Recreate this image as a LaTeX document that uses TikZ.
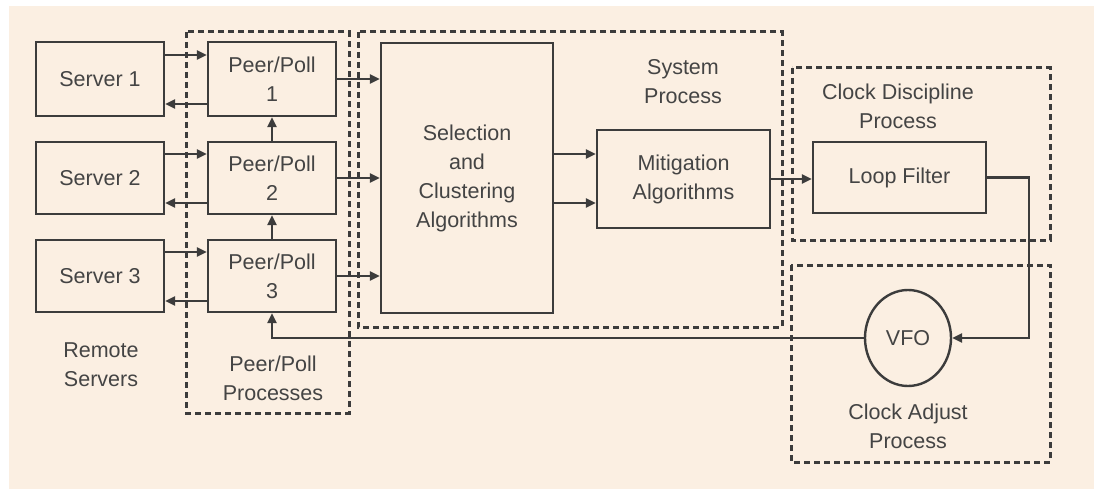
\documentclass[tikz,border=0pt]{standalone}
\usepackage{fontspec}
\setmainfont{Liberation Sans}
\usetikzlibrary{arrows.meta,shapes.geometric}
\definecolor{paper}{RGB}{251,239,226}
\definecolor{ink}{RGB}{60,60,60}
\definecolor{txt}{RGB}{68,68,68}

\tikzset{
  lbl/.style={text=txt, font=\fontsize{21.5}{29}\selectfont, align=center, inner sep=0pt},
  block/.style={lbl, draw=ink, line width=2.4pt, rectangle},
  frame/.style={draw=ink, line width=3pt, dash pattern=on 6pt off 4pt},
  arr/.style={draw=ink, line width=2.4pt, -{Triangle[length=10pt,width=9pt]}}
}

\begin{document}
\begin{tikzpicture}[x=1pt,y=-1pt]
\useasboundingbox (0,0) rectangle (1094,489);
\fill[paper] (9,6) rectangle (1094,489);

% process groups
\draw[frame] (186,32) rectangle (349,413);
\draw[frame] (358,32) rectangle (782,327);
\draw[frame] (792,68) rectangle (1050,240);
\draw[frame] (791,265) rectangle (1050,462);

% remote servers
\node[block, minimum width=128pt, minimum height=74pt] (s1) at (100,79) {Server 1};
\node[block, minimum width=128pt, minimum height=72pt] (s2) at (100,178) {Server 2};
\node[block, minimum width=128pt, minimum height=72pt] (s3) at (100,276) {Server 3};

% peer/poll processes
\node[block, minimum width=128pt, minimum height=74pt] (p1) at (272,79) {Peer/Poll\\1};
\node[block, minimum width=128pt, minimum height=72pt] (p2) at (272,178) {Peer/Poll\\2};
\node[block, minimum width=128pt, minimum height=72pt] (p3) at (272,276) {Peer/Poll\\3};

% system process
\node[block, minimum width=172pt, minimum height=270pt] (sel) at (467,178)
  {Selection\\and\\Clustering\\Algorithms};
\node[block, minimum width=173pt, minimum height=98pt] (mit) at (683.5,179)
  {Mitigation\\Algorithms};

% clock discipline and adjust
\node[block, minimum width=173pt, minimum height=71pt] (lf) at (899.5,177.5) {Loop Filter};
\node[block, ellipse, minimum width=86pt, minimum height=96pt] (vfo) at (908,338) {VFO};

% group captions
\node[lbl] (capRS) at (101,365) {Remote\\Servers};
\node[lbl] (capPP) at (273,378) {Peer/Poll\\Processes};
\node[lbl] (capSP) at (683,82) {System\\Process};
\node[lbl] (capCD) at (898,106) {Clock Discipline\\Process};
\node[lbl] (capCA) at (908,426) {Clock Adjust\\Process};

% server <-> peer exchanges
\foreach \s/\p in {s1/p1, s2/p2, s3/p3}{
  \coordinate (a) at ([yshift=24pt]\s.east);
  \coordinate (b) at ([yshift=-25pt]\p.west);
  \draw[arr] (a) -- (a -| \p.west);
  \draw[arr] (b) -- (b -| \s.east);
  \draw[arr] (\p.east) -- (\p.east -| sel.west);
}
\draw[arr] (p2.north) -- (p1.south);
\draw[arr] (p3.north) -- (p2.south);

% selection -> mitigation -> loop filter
\coordinate (m1) at ([yshift=25pt]mit.west);
\coordinate (m2) at ([yshift=-24pt]mit.west);
\draw[arr] (sel.east |- m1) -- (m1);
\draw[arr] (sel.east |- m2) -- (m2);
\draw[arr] (mit.east) -- (mit.east -| lf.west);

% feedback loop
\draw[arr] (lf.east) -- ++(42,0) |- (vfo.east);
\draw[arr] (vfo.west) -| (p3.south);
\end{tikzpicture}
\end{document}
